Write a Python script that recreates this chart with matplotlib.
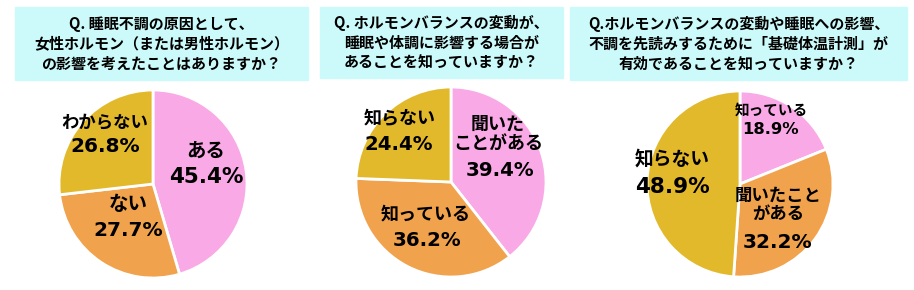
import matplotlib.pyplot as plt
from matplotlib.patches import Rectangle

plt.rcParams['font.family'] = ['Noto Sans CJK JP', 'DejaVu Sans']

# --- data ---
titles = [
    'Q. 睡眠不調の原因として、\n女性ホルモン（または男性ホルモン）\nの影響を考えたことはありますか？',
    'Q. ホルモンバランスの変動が、\n睡眠や体調に影響する場合が\nあることを知っていますか？',
    'Q.ホルモンバランスの変動や睡眠への影響、\n不調を先読みするために「基礎体温計測」が\n有効であることを知っていますか？',
]
labels1 = ['ある', 'ない', 'わからない']
values1 = [45.4, 27.7, 26.8]
labels2 = ['聞いた\nことがある', '知っている', '知らない']
values2 = [39.4, 36.2, 24.4]
labels3 = ['知っている', '聞いたこと\nがある', '知らない']
values3 = [18.9, 32.2, 48.9]

colors = ['#f9a9e6', '#f0a24c', '#e3b92c']

# --- layout (pixels) ---
W, H = 914, 290
fig = plt.figure(figsize=(W / 100, H / 100), dpi=100)


def px(x, y):
    return x / W, 1 - y / H


boxes = [(15, 7, 293, 73), (320, 7, 243, 71), (570, 7, 337, 73)]
for (x, y, w, h), t in zip(boxes, titles):
    fig.patches.append(Rectangle(px(x, y + h), w / W, h / H,
                                 transform=fig.transFigure, color='#ccfafa', zorder=0))
    fig.text(*px(x + w / 2, y + h / 2), t, ha='center', va='center',
             fontsize=10.8, fontweight='bold', linespacing=1.3)

# pie centre / radius, then per slice: label centre, label size, pct centre, pct size
pies = [
    (153, 184, 94, labels1, values1,
     [((206, 151), 14, (206, 177), 15.5),
      ((128, 204), 14, (128, 230), 14.5),
      ((105, 122), 12.5, (105, 147), 14.5)]),
    (451, 182, 95, labels2, values2,
     [((498, 134), 13, (500, 170), 14.2),
      ((426, 214), 13, (427, 240), 14.2),
      ((400, 119), 13, (399, 145), 14.2)]),
    (740, 184, 93, labels3, values3,
     [((771, 110), 10.5, (771, 130), 11.8),
      ((778, 205), 12.5, (778, 243), 14.5),
      ((672, 159), 13.5, (672, 187), 15.5)]),
]

k = 1.2
for cx, cy, r, labels, values, pos in pies:
    ax = fig.add_axes([(cx - k * r) / W, (H - cy - k * r) / H, 2 * k * r / W, 2 * k * r / H])
    ax.pie(values, colors=colors, startangle=90, counterclock=False,
           wedgeprops=dict(edgecolor='white', linewidth=2))
    ax.set_xlim(-k, k)
    ax.set_ylim(-k, k)
    ax.set_aspect('equal')
    ax.axis('off')
    for lab, val, (lxy, lfs, pxy, pfs) in zip(labels, values, pos):
        fig.text(*px(*lxy), lab, ha='center', va='center', fontsize=lfs,
                 fontweight='bold', linespacing=1.05)
        fig.text(*px(*pxy), f'{val:.1f}%', ha='center', va='center', fontsize=pfs,
                 fontweight='bold', family='DejaVu Sans')

plt.savefig('out.png', dpi=100)
